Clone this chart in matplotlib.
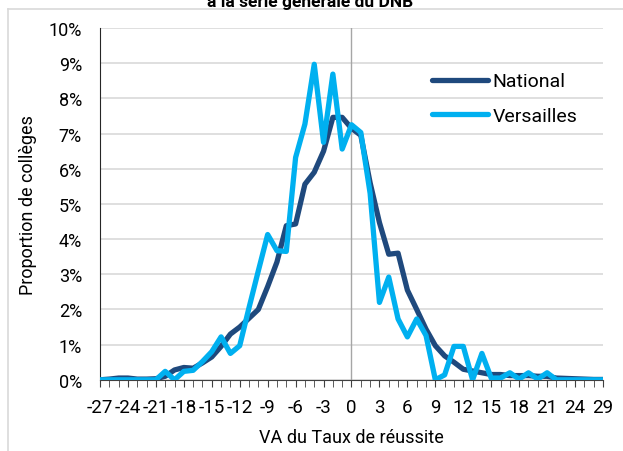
import numpy as np
import matplotlib.pyplot as plt
from matplotlib.lines import Line2D

plt.rcParams['font.family'] = ['Roboto', 'DejaVu Sans']

# VA categories (-27 .. 24, then the last few present in the data)
va = list(range(-27, 25)) + [25, 27, 29]

national = [0.00, 0.02, 0.05, 0.05, 0.02, 0.02, 0.03, 0.10, 0.28, 0.35,
            0.33, 0.48, 0.65, 0.95, 1.30, 1.50, 1.75, 2.00, 2.65, 3.35,
            4.38, 4.43, 5.56, 5.90, 6.50, 7.46, 7.46, 7.15, 6.95, 5.60,
            4.47, 3.57, 3.60, 2.55, 2.00, 1.44, 0.97, 0.68, 0.50, 0.30,
            0.25, 0.20, 0.15, 0.15, 0.12, 0.12, 0.12, 0.10, 0.10, 0.05,
            0.04, 0.03, 0.02, 0.01, 0.01]

versailles = [0.00, 0.00, 0.00, 0.00, 0.00, 0.00, 0.00, 0.24, 0.00, 0.24,
              0.27, 0.52, 0.80, 1.22, 0.75, 0.97, 2.05, 3.10, 4.13, 3.67,
              3.65, 6.32, 7.27, 8.97, 6.75, 8.69, 6.56, 7.25, 7.03, 5.30,
              2.20, 2.92, 1.73, 1.22, 1.73, 1.26, 0.00, 0.14, 0.95, 0.95,
              0.00, 0.75, 0.05, 0.05, 0.20, 0.02, 0.20, 0.02, 0.20, 0.00,
              0.00, 0.00, 0.00, 0.00, 0.00]

title = "à la série générale du DNB"
navy = '#1F497D'
light = '#00B0F0'

fig = plt.figure(figsize=(6.23, 4.52), dpi=100)
ax = fig.add_axes([0.1605, 0.1575, 0.8074, 0.7783])

idx = np.arange(len(va))
ax.axvline(va.index(0), color='#A6A6A6', lw=1, zorder=1)
ax.plot(idx, national, color=navy, lw=3.8, solid_capstyle='round', zorder=3, label='National')
ax.plot(idx, versailles, color=light, lw=3.8, solid_capstyle='round', zorder=4, label='Versailles')

ax.set_xlim(0, len(va) - 1)
ax.set_ylim(0, 10)
ax.set_yticks(np.arange(0, 11, 1))
ax.set_yticklabels([f"{v}%" for v in range(11)], fontsize=13)
ax.yaxis.grid(True, color='#D9D9D9', lw=1.2)
ax.set_axisbelow(True)
ax.tick_params(axis='y', length=0, pad=13)

ax.set_xticks(idx[::3])
ax.set_xticklabels([str(v) for v in va[::3]], fontsize=13.5)
ax.set_xticks(idx, minor=True)
ax.tick_params(axis='x', which='both', length=5, color='#404040', pad=8)

for s in ['top', 'right']:
    ax.spines[s].set_visible(False)
ax.spines['left'].set_color('#262626')
ax.spines['bottom'].set_color('#404040')

ax.set_xlabel("VA du Taux de réussite", fontsize=13, labelpad=9)
ax.set_ylabel("Proportion de collèges", fontsize=13, labelpad=8)

ax.legend(loc='upper left', bbox_to_anchor=(0.66, 0.874), frameon=False,
          borderpad=0, borderaxespad=0,
          fontsize=14, handlelength=2.9, handletextpad=0.2, labelspacing=0.85)

fig.text(0.497, 1 - 7 / 452, title, ha='center', va='baseline',
         fontsize=12.5, fontweight='bold')

# chart-area border
fig.add_artist(Line2D([8 / 623, 8 / 623], [0, 1 - 10 / 452], color='#D9D9D9', lw=1.2))
fig.add_artist(Line2D([8 / 623, 1], [1 - 10 / 452, 1 - 10 / 452], color='#D9D9D9', lw=1.2))

fig.savefig('out.png', dpi=100)
